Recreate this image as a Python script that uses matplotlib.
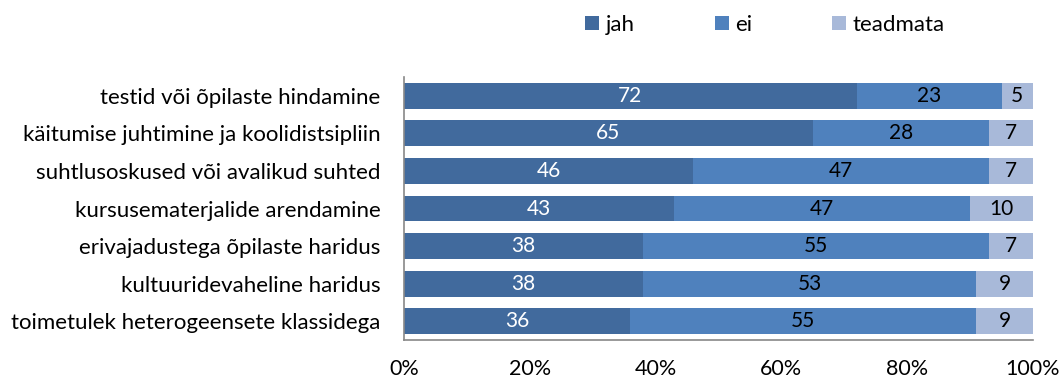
import matplotlib
matplotlib.use("Agg")
import matplotlib.pyplot as plt
import numpy as np

categories = [
    "testid või õpilaste hindamine",
    "käitumise juhtimine ja koolidistsipliin",
    "suhtlusoskused või avalikud suhted",
    "kursusematerjalide arendamine",
    "erivajadustega õpilaste haridus",
    "kultuuridevaheline haridus",
    "toimetulek heterogeensete klassidega",
]
jah = [72, 65, 46, 43, 38, 38, 36]
ei = [23, 28, 47, 47, 55, 53, 55]
teadmata = [5, 7, 7, 10, 7, 9, 9]
series_names = ["jah", "ei", "teadmata"]
ticks = [0, 20, 40, 60, 80, 100]
tick_labels = ["0%", "20%", "40%", "60%", "80%", "100%"]
colors = ["#416A9D", "#4F81BD", "#A8B9D9"]
label_colors = ["white", "black", "black"]

plt.rcParams['font.family'] = ['Lato', 'DejaVu Sans']

fig = plt.figure(figsize=(10.62, 3.8), dpi=100)
ax = fig.add_axes([404/1062, 1-340/380, 629/1062, 263/380])

y = np.arange(len(categories))
left = np.zeros(len(categories))
for name, vals, c, lc in zip(series_names, [jah, ei, teadmata], colors, label_colors):
    vals = np.array(vals, dtype=float)
    ax.barh(y, vals, left=left, height=0.69, color=c, label=name)
    for yi, l, v in zip(y, left, vals):
        ax.text(l + v/2, yi, f"{int(v)}", ha="center", va="center", color=lc, fontsize=15)
    left += vals

ax.set_xlim(0, 100)
ax.set_ylim(len(categories)-0.5, -0.5)
ax.set_yticks(y)
ax.set_yticklabels(categories, fontsize=16)
ax.set_xticks(ticks)
ax.set_xticklabels(tick_labels, fontsize=15.5)
ax.tick_params(axis="both", length=0)
ax.tick_params(axis="y", pad=17)
ax.tick_params(axis="x", pad=14)
for s in ["top", "right"]:
    ax.spines[s].set_visible(False)
for s in ["left", "bottom"]:
    ax.spines[s].set_color("#888888")
    ax.spines[s].set_linewidth(1.2)

fig.legend(loc="center", bbox_to_anchor=(765/1062, 1-25/380), ncol=3, frameon=False,
           fontsize=16, handlelength=0.63, handleheight=0.63, handletextpad=0.3,
           columnspacing=3.6)

fig.savefig("out.png", dpi=100)
